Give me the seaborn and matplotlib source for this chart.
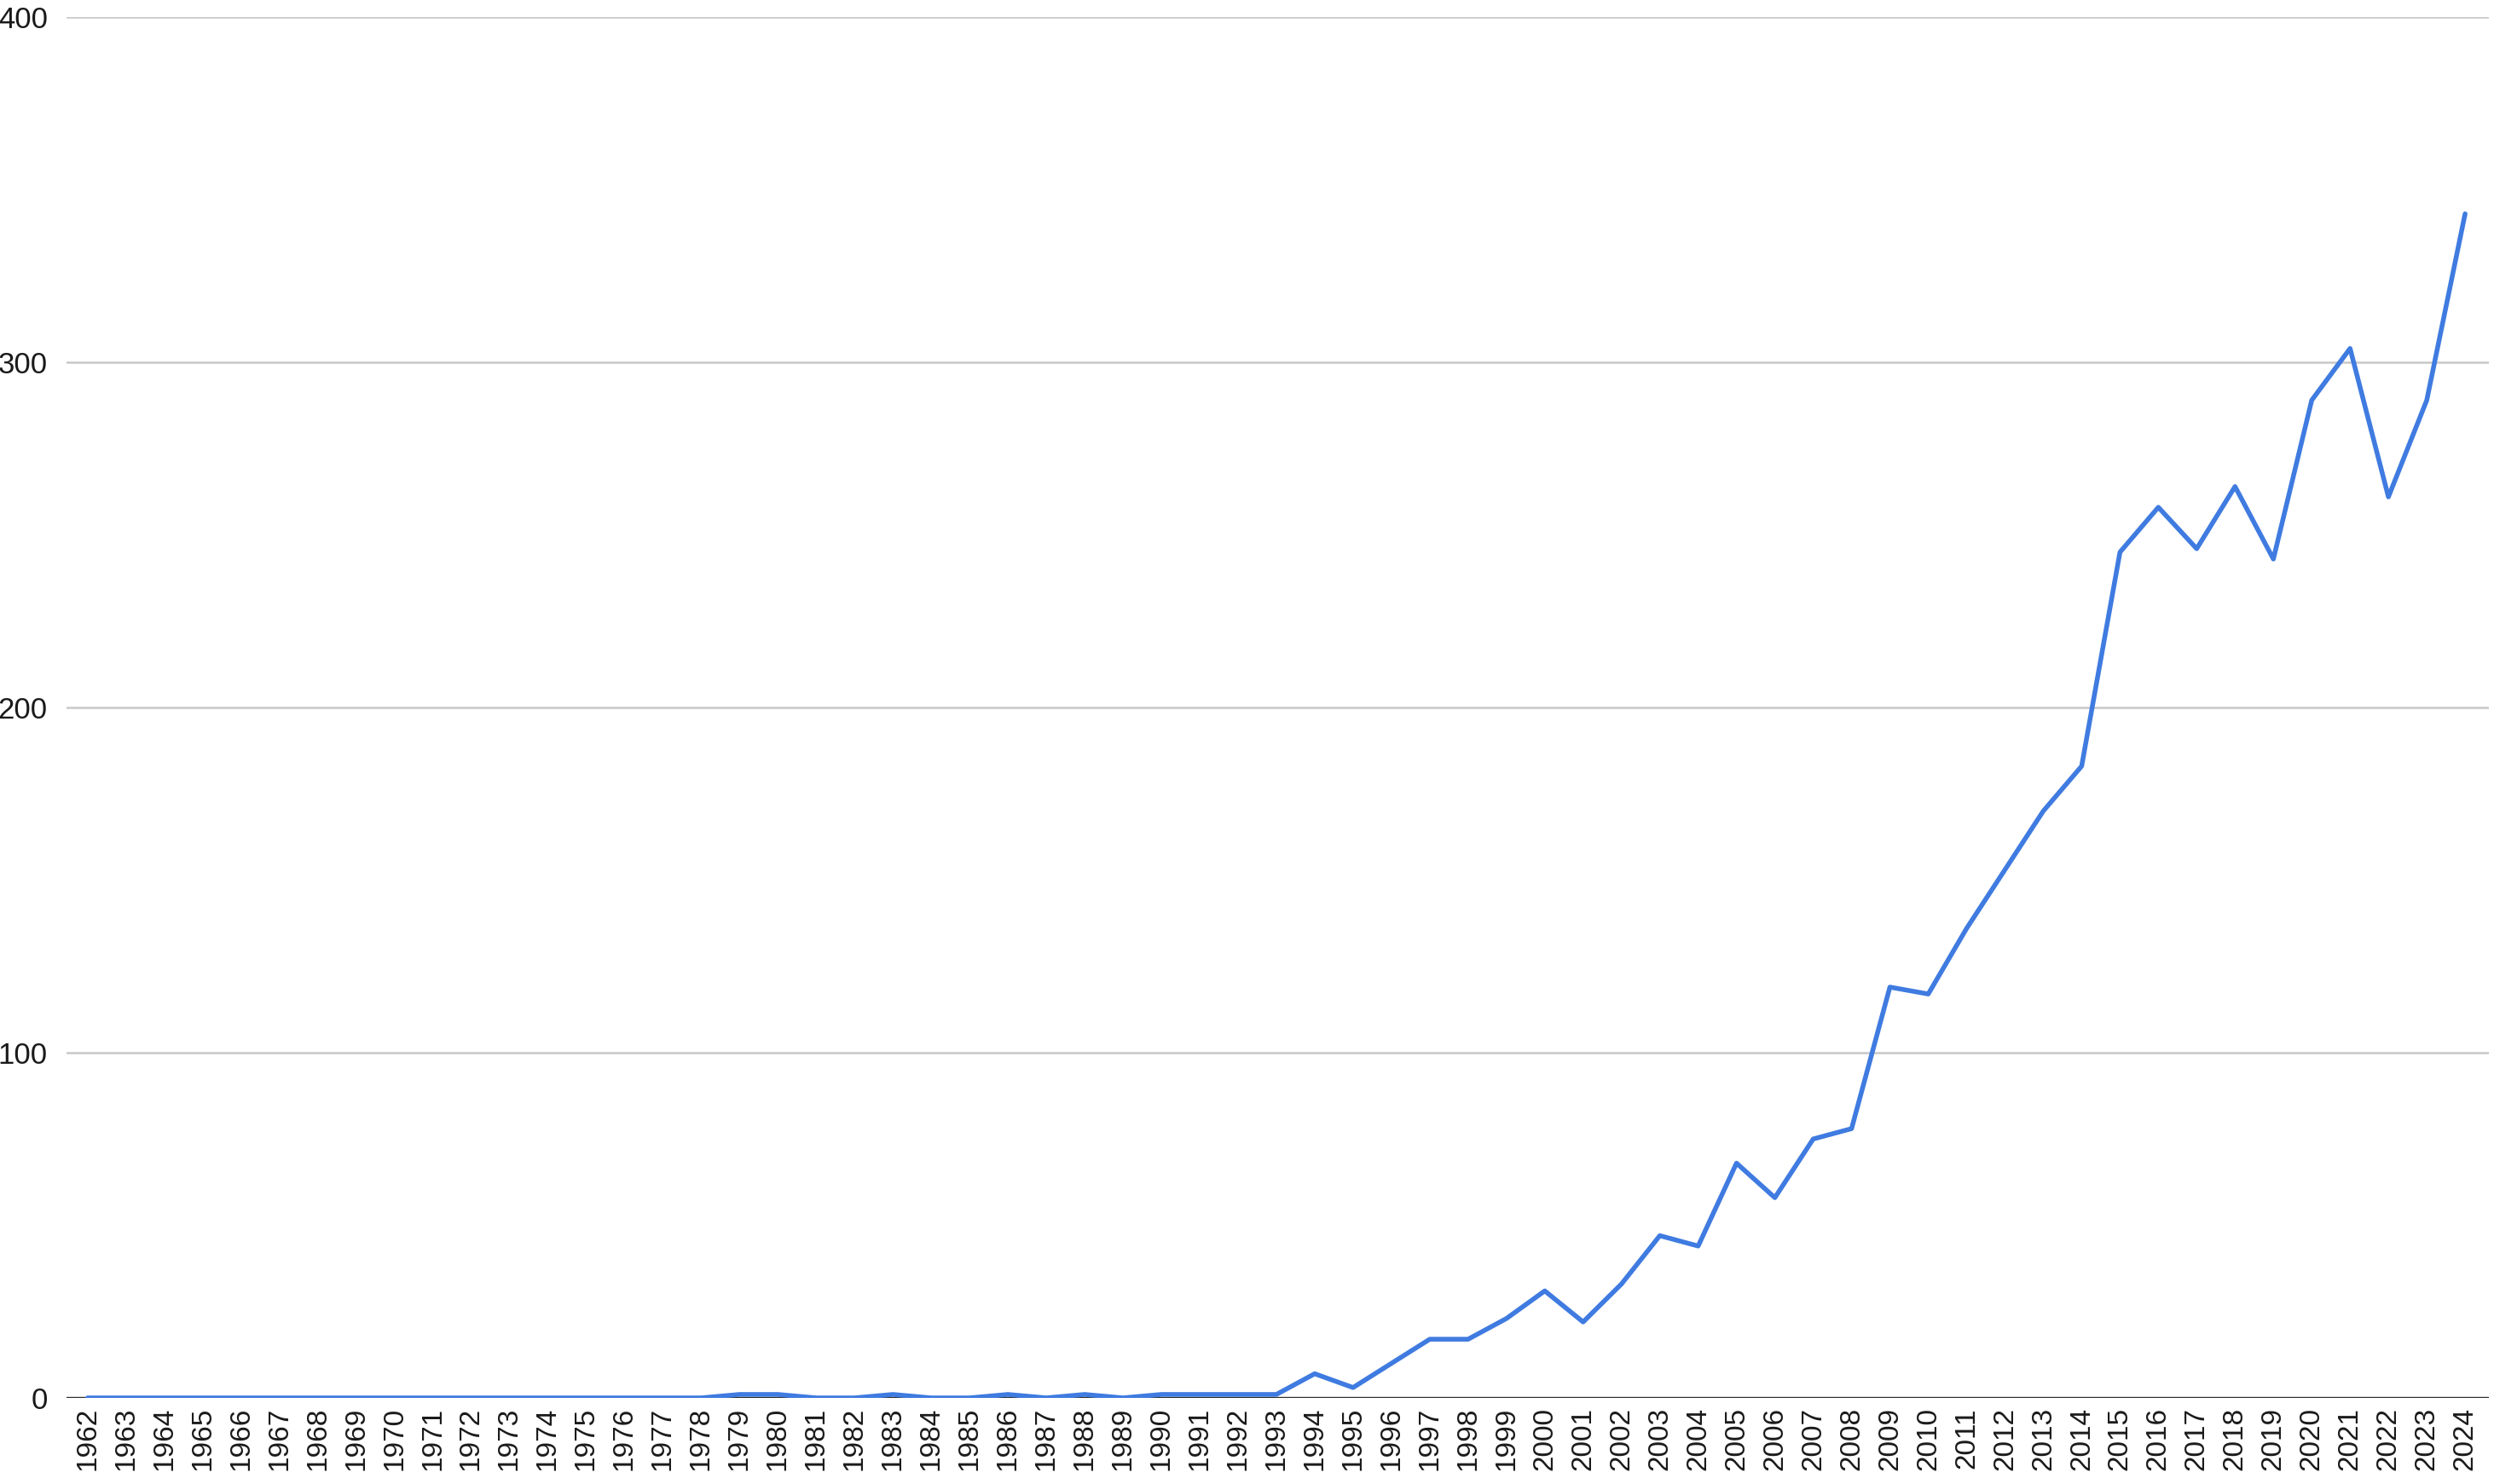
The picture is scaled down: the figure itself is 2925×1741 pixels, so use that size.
import numpy as np
import pandas as pd
import matplotlib
matplotlib.use("Agg")
import matplotlib.pyplot as plt
import seaborn as sns

# yearly counts
years = list(range(1962, 2025))
counts = [0] * 17 + [  # 1962-1978
    1, 1, 0, 0, 1, 0, 0, 1, 0, 1, 0, 1, 1, 1, 1,  # 1979-1993
    7, 3, 10, 17, 17, 23, 31, 22, 33, 47, 44, 68, 58, 75, 78,  # 1994-2008
    119, 117, 136, 153, 170, 183, 245, 258, 246, 264, 243,  # 2009-2019
    289, 304, 261, 289, 343,  # 2020-2024
]
y_ticks = [0, 100, 200, 300, 400]

df = pd.DataFrame({"year": years, "count": counts})

sns.set_style("white")
plt.rcParams["font.family"] = ["Liberation Sans", "DejaVu Sans"]

fig, ax = plt.subplots(figsize=(29.25, 17.41), dpi=100)
fig.subplots_adjust(left=78 / 2925, right=2919 / 2925,
                    bottom=1 - 1640 / 1741, top=1 - 20 / 1741)

# light horizontal gridlines
for t in y_ticks[1:]:
    ax.axhline(t, color="#c8c8c8", lw=1.8, zorder=0)

sns.lineplot(data=df, x="year", y="count", color="#3f7be0", lw=4.0, ax=ax, zorder=3)

# zero baseline
ax.axhline(0, color="#2a2a2a", lw=2.4, zorder=2)

ax.set_xlim(1961.45, 2024.62)
ax.set_ylim(0, 400)
ax.set_xticks(years)
ax.set_xticklabels([str(y) for y in years], rotation=90, fontsize=24, color="#1a1a1a")
ax.set_yticks(y_ticks)
ax.set_yticklabels([str(t) for t in y_ticks], fontsize=25, color="#1a1a1a")
ax.tick_params(axis="x", length=0, pad=8)
ax.tick_params(axis="y", length=0, pad=16)
ax.set_xlabel("")
ax.set_ylabel("")
for s in ax.spines.values():
    s.set_visible(False)

fig.savefig("out.png", dpi=100)
